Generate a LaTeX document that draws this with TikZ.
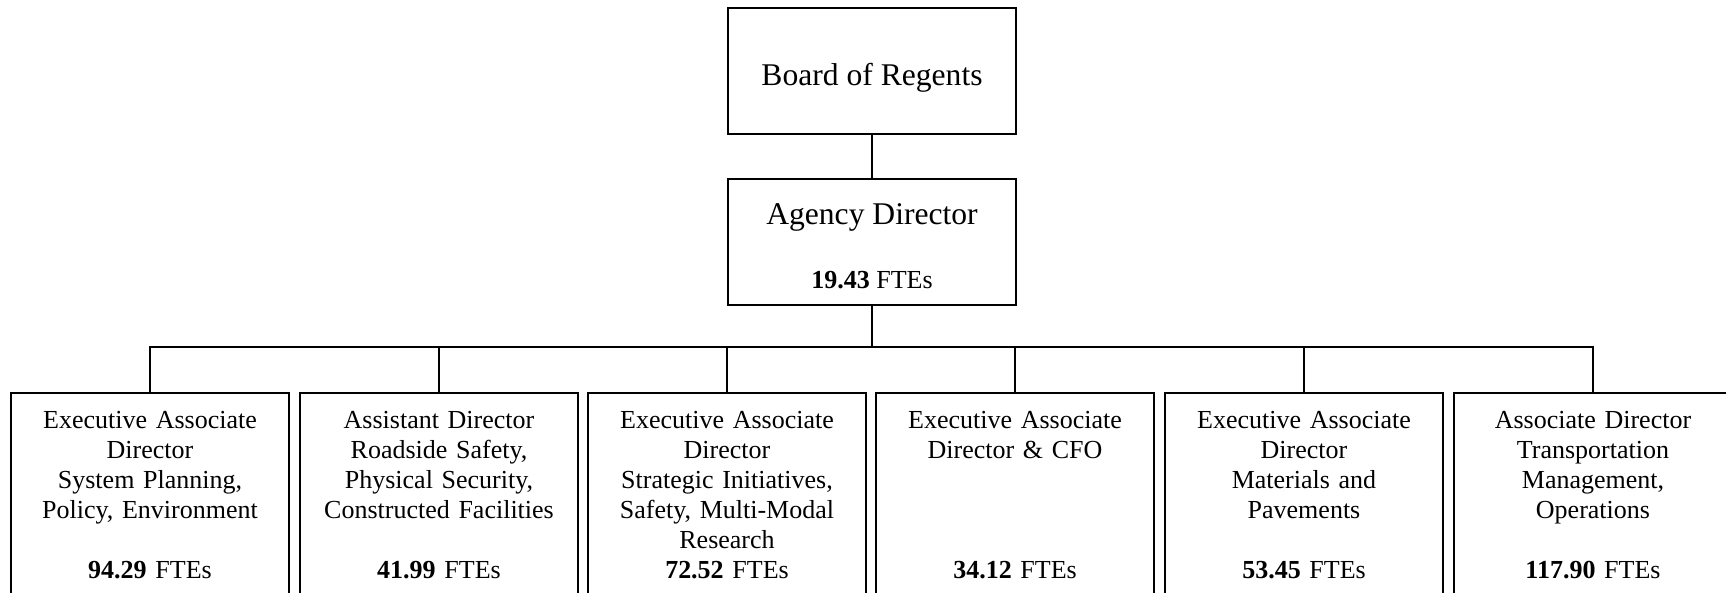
\documentclass[tikz,border=0pt]{standalone}
\usepackage{fontspec}
\setmainfont{Liberation Serif}
\usetikzlibrary{positioning}
\tikzset{
  head/.style={rectangle, draw=black, line width=0.9pt, minimum width=144pt, minimum height=63pt, inner sep=0pt, align=center},
  unit/.style={rectangle, draw=black, line width=0.9pt, anchor=north, minimum width=139pt, minimum height=120pt, inner sep=0pt},
  unittext/.style={text width=135pt, align=center, inner sep=0pt, font=\fontsize{13pt}{15pt}\selectfont},
  link/.style={draw=black, line width=0.9pt}
}

\begin{document}
\begin{tikzpicture}[x=0.5pt, y=-0.5pt]
  \useasboundingbox (0,0) rectangle (1726,593);
  \clip (0,0) rectangle (1726,593);

  % Top of the chart
  \node[head, font=\fontsize{15.8pt}{19pt}\selectfont, text height=18pt, text depth=3.5pt] (board) at (872,71) {Board of Regents};
  \node[head, font=\fontsize{13pt}{15pt}\selectfont] (agency) at (872,242)
    {{\fontsize{15.8pt}{19pt}\selectfont\rule{0pt}{15pt}Agency Director}\\[17pt]\textbf{19.43} FTEs};

  % Division boxes (cut off at the bottom edge)
  \node[unit] (dir1) at (150,392) {};
  \node[unit] (dir2) at (439,392) {};
  \node[unit] (dir3) at (727,392) {};
  \node[unit] (dir4) at (1015,392) {};
  \node[unit] (dir5) at (1304,392) {};
  \node[unit] (dir6) at (1593,392) {};

  % Box texts
  \node[unittext, below=9.5pt of dir1.north] (dir1t)
    {Executive Associate\\Director\\System Planning,\\Policy, Environment\\[15pt]\textbf{94.29} FTEs};
  \node[unittext, below=9.5pt of dir2.north] (dir2t)
    {Assistant Director\\Roadside Safety,\\Physical Security,\\Constructed Facilities\\[15pt]\textbf{41.99} FTEs};
  \node[unittext, below=9.5pt of dir3.north] (dir3t)
    {Executive Associate\\Director\\Strategic Initiatives,\\Safety, Multi-Modal\\Research\\\textbf{72.52} FTEs};
  \node[unittext, below=9.5pt of dir4.north] (dir4t)
    {Executive Associate\\Director \& CFO\\[45pt]\textbf{34.12} FTEs};
  \node[unittext, below=9.5pt of dir5.north] (dir5t)
    {Executive Associate\\Director\\Materials and\\Pavements\\[15pt]\textbf{53.45} FTEs};
  \node[unittext, below=9.5pt of dir6.north] (dir6t)
    {Associate Director\\Transportation\\Management,\\Operations\\[15pt]\textbf{117.90} FTEs};

  % Connectors
  \coordinate (bus) at (872,347);
  \draw[link] (board) -- (agency);
  \draw[link] (agency) -- (bus);
  \draw[link] (dir1.north) -- ++(0,-45) -| (dir6.north);
  \draw[link] (dir2.north) -- (dir2.north |- bus);
  \draw[link] (dir3.north) -- (dir3.north |- bus);
  \draw[link] (dir4.north) -- (dir4.north |- bus);
  \draw[link] (dir5.north) -- (dir5.north |- bus);
\end{tikzpicture}
\end{document}
